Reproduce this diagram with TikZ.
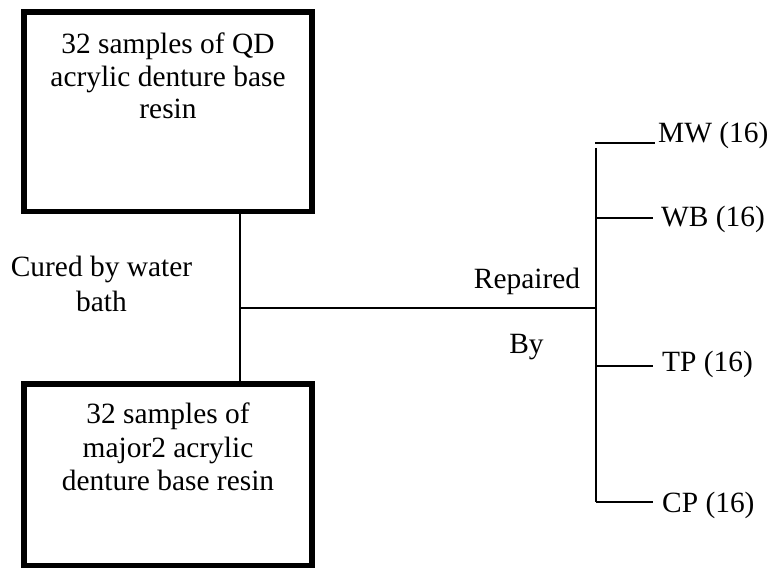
\documentclass[tikz,border=0pt]{standalone}
\usepackage{fontspec}
\setmainfont{Liberation Serif}
\begin{document}
\begin{tikzpicture}[x=1pt,y=-1pt,
  boxnode/.style={draw,line width=5.6pt,minimum width=288.4pt,minimum height=199.3pt,inner sep=0pt},
  conn/.style={line width=1.3pt},
  lbl/.style={inner sep=0pt,font=\fontsize{29.4}{33}\selectfont},
  blk/.style={lbl,align=center,anchor=north}]
\useasboundingbox (0,0) rectangle (769,569);
% boxes
\node[boxnode] (qd) at (168,111.85) {};
\node[boxnode,minimum height=181.5pt] (major) at (168,474.75) {};
% box texts
\node[blk,font=\fontsize{29.4}{32.5}\selectfont] (qdtext) at (168,33) {32 samples of QD\\acrylic denture base\\resin};
\node[blk,font=\fontsize{29.4}{33.5}\selectfont] (majortext) at (168,403) {32 samples of\\major2 acrylic\\denture base resin};
\node[blk,font=\fontsize{29.4}{35}\selectfont] (cured) at (101.5,256) {Cured by water\\bath};
% junctions
\coordinate (j) at (240,308);
\coordinate (r) at (596,308);
\coordinate (rtop) at (596,148);
\coordinate (rbot) at (596,502);
% labels on the right
\node[lbl,anchor=base] (rep) at (527,289) {Repaired};
\node[lbl,anchor=base] (by) at (526.5,354) {By};
\node[lbl,anchor=base west] (mw) at (658,143) {MW (16)};
\node[lbl,anchor=base west] (wb) at (661,227) {WB (16)};
\node[lbl,anchor=base west] (tp) at (662,372) {TP (16)};
\node[lbl,anchor=base west] (cp) at (662,512) {CP (16)};
% connectors
\draw[conn] (qd.south -| j) -- (major.north -| j);
\draw[conn] (j) -- (r);
\draw[line width=2pt] (423,308) -- (433,308);
\draw[conn] (rtop) -- (rbot);
\draw[conn] (595,143) -- (mw.base west -| 655,0);
\draw[conn] (596,218) -- ([xshift=-8pt]wb.west |- 0,218);
\draw[conn] (596,366) -- ([xshift=-9pt]tp.west |- 0,366);
\draw[conn] (rbot) -- ([xshift=-9pt]cp.west |- rbot);
\end{tikzpicture}
\end{document}
